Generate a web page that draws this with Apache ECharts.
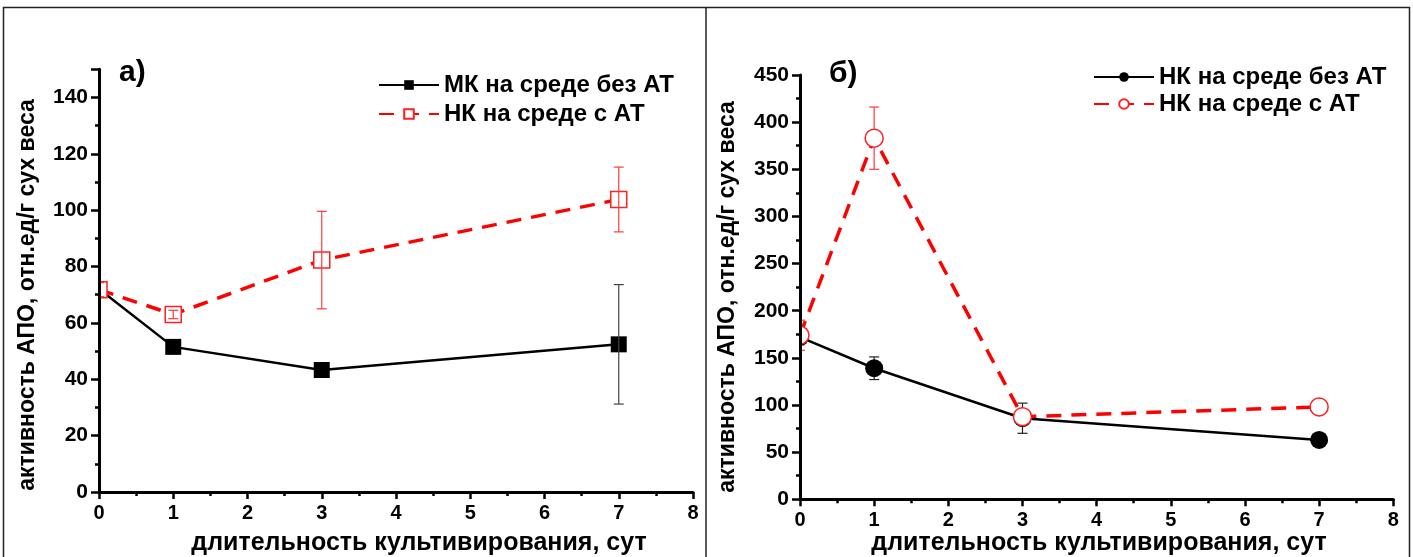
<!DOCTYPE html>
<html>
<head>
<meta charset="utf-8">
<script src="https://cdn.jsdelivr.net/npm/echarts@6/dist/echarts.min.js"></script>
<style>
html,body{margin:0;padding:0;background:#fff;}
#chart{width:1413px;height:557px;}
</style>
</head>
<body>
<div id="chart"></div>
<script>
// ---- data ----
const days = [0, 1, 3, 7];
const xTicks = ['0','1','2','3','4','5','6','7','8'];

// panel а)
const aNames = ['МК на среде без АТ', 'НК на среде с АТ'];
const aNoAT = [72, 51.5, 43.3, 52.4];
const aNoATErr = [0, 0, 0, 21.2];
const aWithAT = [71.8, 63.0, 82.3, 103.8];
const aWithATErr = [2.5, 1.5, 17.3, 11.5];

// panel б)
const bNames = ['НК на среде без АТ', 'НК на среде с АТ'];
const bNoAT = [172, 139, 86, 63];
const bNoATErr = [0, 12, 16, 0];
const bWithAT = [174, 383, 87.6, 98];
const bWithATErr = [16, 33, 5, 0];

const titleY = 'активность АПО, отн.ед/г сух веса';
const titleX = 'длительность культивирования, сут';

// ---- helpers ----
function pts(xs, ys){ return xs.map((x,i)=>[x, ys[i]]); }
function errPts(xs, ys, es){
  const out = [];
  xs.forEach((x,i)=>{ if (es[i] > 0) out.push([x, ys[i]-es[i], ys[i]+es[i]]); });
  return out;
}
function errorSeries(idx, data, color, z){
  return {
    type: 'custom', xAxisIndex: idx, yAxisIndex: idx, z: z, silent: true,
    data: data,
    renderItem: function(params, api){
      const lo = api.coord([api.value(0), api.value(1)]);
      const hi = api.coord([api.value(0), api.value(2)]);
      const w = 5;
      const st = {stroke: color, lineWidth: 1.2};
      return {type: 'group', children: [
        {type: 'line', shape: {x1: lo[0], y1: lo[1], x2: hi[0], y2: hi[1]}, style: st},
        {type: 'line', shape: {x1: lo[0]-w, y1: lo[1], x2: lo[0]+w, y2: lo[1]}, style: st},
        {type: 'line', shape: {x1: hi[0]-w, y1: hi[1], x2: hi[0]+w, y2: hi[1]}, style: st}
      ]};
    }
  };
}

const FONT = "'Liberation Sans', Arial, sans-serif";
const NARROW = "'Liberation Sans Narrow', 'Liberation Sans', Arial, sans-serif";

function xAxis(gi){
  return {
    type: 'value', gridIndex: gi, min: 0, max: 8, interval: 1, z: 10,
    axisLine: {lineStyle: {color: '#000', width: 3}},
    axisTick: {length: 7, lineStyle: {width: 2.5, color: '#000'}},
    minorTick: {show: true, splitNumber: 2, length: 4, lineStyle: {width: 2.5, color: '#000'}},
    splitLine: {show: false},
    axisLabel: {color: '#000', fontFamily: NARROW, fontWeight: 'bold', fontSize: 20, margin: 11,
      formatter: v => xTicks[Math.round(v)]}
  };
}
function yAxis(gi, max, interval, showMax){
  return {
    type: 'value', gridIndex: gi, min: 0, max: max, interval: interval, z: 10,
    axisLine: {show: true, lineStyle: {color: '#000', width: 3}},
    axisTick: {show: true, length: 8, lineStyle: {width: 2.5, color: '#000'}},
    minorTick: {show: true, splitNumber: 2, length: 4, lineStyle: {width: 2.5, color: '#000'}},
    splitLine: {show: false},
    axisLabel: {color: '#000', fontFamily: FONT, fontWeight: 'bold', fontSize: 21, margin: 11, showMaxLabel: showMax}
  };
}

const legendText = {color: '#000', fontFamily: FONT, fontWeight: 'bold', fontSize: 24};
const suffix = '\u200b';

const option = {
  animation: false,
  backgroundColor: '#fff',
  grid: [
    {left: 99, top: 69.3, width: 594, height: 422.7},
    {left: 800, top: 75, width: 593.3, height: 424.3}
  ],
  xAxis: [xAxis(0), xAxis(1)],
  yAxis: [yAxis(0, 150, 20, false), yAxis(1, 450, 50, true)],
  legend: [
    {orient: 'vertical', left: 373, top: 68, itemWidth: 60, itemHeight: 12, itemGap: 5,
      data: aNames, textStyle: legendText},
    {orient: 'vertical', left: 1088, top: 60, itemWidth: 60, itemHeight: 12, itemGap: 3,
      data: bNames.map(n => n + suffix), textStyle: legendText,
      formatter: n => n.replace(suffix, '')}
  ],
  series: [
    errorSeries(0, errPts(days, aNoAT, aNoATErr), '#444', 4),
    errorSeries(0, errPts(days, aWithAT, aWithATErr), '#ff3b3b', 4),
    {
      name: aNames[0], type: 'line', xAxisIndex: 0, yAxisIndex: 0, z: 2,
      data: pts(days, aNoAT), symbol: 'rect', symbolSize: 16,
      lineStyle: {color: '#000', width: 2.5}, itemStyle: {color: '#000', borderColor: '#000', borderWidth: 0}
    },
    {
      name: aNames[1], type: 'line', xAxisIndex: 0, yAxisIndex: 0, z: 3,
      data: pts(days, aWithAT), symbol: 'rect', symbolSize: 16,
      lineStyle: {color: '#ff0000', width: 3.5, type: [15, 10]},
      itemStyle: {color: '#fff', borderColor: '#ff2020', borderWidth: 1.5}
    },
    errorSeries(1, errPts(days, bNoAT, bNoATErr), '#222', 1),
    errorSeries(1, errPts(days, bWithAT, bWithATErr), '#ff3b3b', 1),
    {
      name: bNames[0] + suffix, type: 'line', xAxisIndex: 1, yAxisIndex: 1, z: 2,
      data: pts(days, bNoAT), symbol: 'circle', symbolSize: 18,
      lineStyle: {color: '#000', width: 2.5}, itemStyle: {color: '#000', borderWidth: 0}
    },
    {
      name: bNames[1] + suffix, type: 'line', xAxisIndex: 1, yAxisIndex: 1, z: 3,
      data: pts(days, bWithAT), symbol: 'circle', symbolSize: 18,
      lineStyle: {color: '#ff0000', width: 3.5, type: [15, 10]},
      itemStyle: {color: '#fff', borderColor: '#ff2020', borderWidth: 1.5}
    }
  ],
  graphic: [
    // white strips left of the y axes so markers are clipped at the plot edge
    {type: 'rect', z: 5, silent: true, shape: {x: 89, y: 69, width: 9, height: 423}, style: {fill: '#fff'}},
    {type: 'rect', z: 5, silent: true, shape: {x: 790, y: 75, width: 9, height: 424}, style: {fill: '#fff'}},
    {type: 'rect', z: 6, shape: {x: 3.5, y: 7.5, width: 1406, height: 560}, style: {fill: 'none', stroke: '#222', lineWidth: 1.5}, silent: true},
    {type: 'line', z: 6, shape: {x1: 706, y1: 7.5, x2: 706, y2: 557}, style: {stroke: '#222', lineWidth: 1.5}, silent: true},
    {type: 'text', z: 6, x: 119, y: 73, style: {text: 'а)', font: "bold 30px " + FONT, fill: '#000', verticalAlign: 'middle'}},
    {type: 'text', z: 6, x: 829, y: 74, style: {text: 'б)', font: "bold 30px " + FONT, fill: '#000', verticalAlign: 'middle'}},
    {type: 'text', z: 6, x: 28, y: 295, rotation: Math.PI/2, style: {text: titleY, font: "bold 23px " + FONT, fill: '#000', align: 'center', verticalAlign: 'middle'}},
    {type: 'text', z: 6, x: 728, y: 297, rotation: Math.PI/2, style: {text: titleY, font: "bold 23px " + FONT, fill: '#000', align: 'center', verticalAlign: 'middle'}},
    {type: 'text', z: 6, x: 419, y: 543, style: {text: titleX, font: "bold 25px " + FONT, fill: '#000', align: 'center', verticalAlign: 'middle'}},
    {type: 'text', z: 6, x: 1099, y: 543, style: {text: titleX, font: "bold 25px " + FONT, fill: '#000', align: 'center', verticalAlign: 'middle'}}
  ]
};

const chart = echarts.init(document.getElementById('chart'), null, {renderer: 'canvas'});
chart.setOption(option);
</script>
</body>
</html>
